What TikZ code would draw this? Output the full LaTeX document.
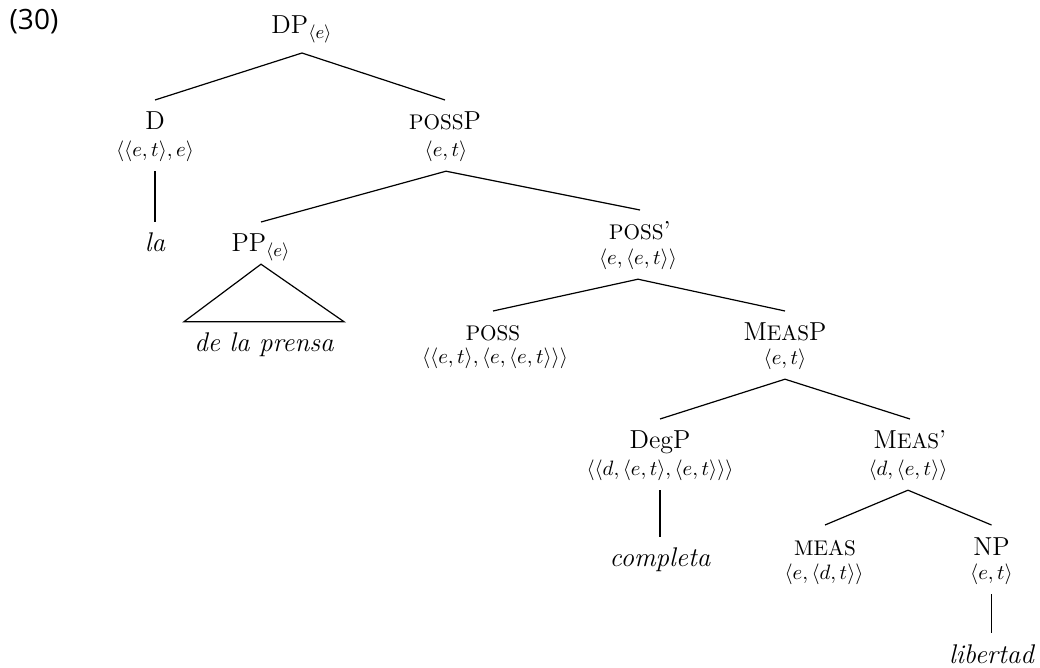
\RequirePackage{fix-cm}
\documentclass[tikz,border=0pt]{standalone}
\usepackage{fontspec}
\newfontfamily\exfont{Open Sans}
\newcommand\mysc[1]{{\fontsize{10.6}{12}\selectfont #1}}
\begin{document}
\begin{tikzpicture}[x=0.5pt,y=-0.5pt,
  cat/.style={anchor=base,inner sep=0pt,outer ysep=6.1pt,text height=8.9pt,text depth=0pt,font=\fontsize{13}{15}\selectfont},
  typ/.style={anchor=base,inner sep=0pt,outer ysep=4.5pt,text height=7.8pt,text depth=2.6pt,font=\fontsize{10.4}{12}\selectfont},
  word/.style={anchor=base,inner sep=0pt,outer ysep=5.8pt,text height=9.3pt,text depth=0pt,font=\fontsize{13.5}{16}\selectfont\itshape},
  branch/.style={line width=0.6pt}]
\useasboundingbox (0,0) rectangle (1040,668);
\node[font=\exfont\fontsize{14}{16}\selectfont,anchor=base,inner sep=0pt] (ex) at (34,30) {(30)};
\node[cat,outer ysep=9.5pt] (dp) at (302,34) {DP$_{\langle e\rangle}$};
\node[cat] (d) at (155,130) {D};
\node[typ] (dt) at (155,157) {$\langle\langle e,t\rangle,e\rangle$};
\node[cat] (pssp) at (445,130) {\mysc{POSS}P};
\node[typ] (psspt) at (446,157) {$\langle e,t\rangle$};
\node[word] (la) at (155,252) {la};
\node[cat] (pp) at (261,252) {PP$_{\langle e\rangle}$};
\node[word] (prensa) at (264,352) {de la prensa};
\node[cat] (pssbar) at (640,240) {\mysc{POSS}'};
\node[typ] (pssbart) at (638,265) {$\langle e,\langle e,t\rangle\rangle$};
\node[cat] (pss) at (493,341) {\mysc{POSS}};
\node[typ] (psst) at (495,364) {$\langle\langle e,t\rangle,\langle e,\langle e,t\rangle\rangle\rangle$};
\node[cat] (measp) at (785,341) {M\mysc{EAS}P};
\node[typ] (measpt) at (785,365) {$\langle e,t\rangle$};
\node[cat] (degp) at (660,449) {DegP};
\node[typ] (degpt) at (660,476) {$\langle\langle d,\langle e,t\rangle,\langle e,t\rangle\rangle\rangle$};
\node[cat] (measbar) at (910,449) {M\mysc{EAS}'};
\node[typ] (measbart) at (908,476) {$\langle d,\langle e,t\rangle\rangle$};
\node[word] (compl) at (660,567) {completa};
\node[cat] (meas) at (825,555) {\mysc{MEAS}};
\node[typ] (meast) at (824,580) {$\langle e,\langle d,t\rangle\rangle$};
\node[cat] (np) at (991.5,555) {NP};
\node[typ] (npt) at (991.5,580) {$\langle e,t\rangle$};
\node[word] (lib) at (991.5,663) {libertad};
\draw[branch] (dp.south) -- (d.north);
\draw[branch] (dp.south) -- (pssp.north);
\draw[branch] (dt.south) -- (la.north);
\draw[branch] (psspt.south) -- (pp.north);
\draw[branch] (psspt.south) -- (pssbar.north);
\draw[branch] (pp.south) -- ([xshift=-5pt]prensa.north west) -- ([xshift=5pt]prensa.north east) -- cycle;
\draw[branch] (pssbart.south) -- (pss.north);
\draw[branch] (pssbart.south) -- (measp.north);
\draw[branch] (measpt.south) -- (degp.north);
\draw[branch] (measpt.south) -- (measbar.north);
\draw[branch] (degpt.south) -- (compl.north);
\draw[branch] (measbart.south) -- (meas.north);
\draw[branch] (measbart.south) -- (np.north);
\draw[branch] (npt.south) -- (lib.north);
\end{tikzpicture}
\end{document}
